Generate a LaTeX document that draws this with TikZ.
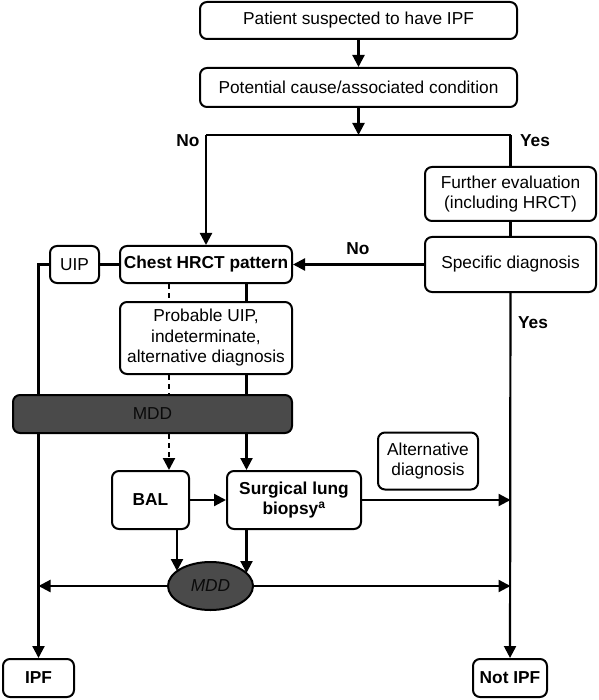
\documentclass[tikz,border=0pt]{standalone}
\usepackage{fontspec}
\setmainfont{Liberation Sans}
\usetikzlibrary{arrows.meta,shapes.geometric,backgrounds,calc}
\definecolor{mddgray}{HTML}{4A4A4A}
\definecolor{mddtext}{HTML}{0A0A0A}
\begin{document}
\begin{tikzpicture}[x=1pt,y=-1pt,
  box/.style={draw, line width=2pt, rounded corners=7pt, fill=white, align=center,
    inner sep=0pt, font=\fontsize{17.3}{20.5}\selectfont},
  bbox/.style={box, font=\fontsize{17.3}{20.5}\selectfont\bfseries},
  conn/.style={line width=2.2pt},
  arr/.style={conn, -{Triangle[length=12pt,width=12pt]}},
  dconn/.style={conn, dash pattern=on 5pt off 4pt},
  darr/.style={arr, dash pattern=on 5pt off 4pt},
  lbl/.style={font=\fontsize{17.3}{20}\selectfont\bfseries, inner sep=0pt},
]
\useasboundingbox (0,0) rectangle (598,700);

% nodes
\node[box, minimum width=317pt, minimum height=37pt] (top) at (358.5,20.5) {Patient suspected to have IPF};
\node[box, minimum width=317pt, minimum height=39pt] (cause) at (358.5,87.5) {Potential cause/associated condition};
\node[box, minimum width=171pt, minimum height=54pt] (further) at (510.5,194) {Further evaluation\\(including HRCT)};
\node[box, minimum width=171pt, minimum height=55pt] (specific) at (510.5,264.5) {Specific diagnosis};
\node[bbox, minimum width=172pt, minimum height=37pt] (chest) at (206,264.5) {Chest HRCT pattern};
\node[box, minimum width=49pt, minimum height=37pt] (uip) at (74.5,264.5) {UIP};
\node[box, minimum width=172pt, minimum height=72pt] (probable) at (206,338) {Probable UIP,\\indeterminate,\\alternative diagnosis};
\node[box, fill=mddgray, text=mddtext, minimum width=279pt, minimum height=38pt] (mddbar) at (152.5,414) {MDD};
\node[bbox, minimum width=77pt, minimum height=58pt] (bal) at (150.5,500) {BAL};
\node[bbox, minimum width=134pt, minimum height=58pt] (slb) at (294,500) {Surgical lung\\biopsy\textsuperscript{a}};
\node[box, minimum width=100pt, minimum height=57pt] (alt) at (428,461) {Alternative\\diagnosis};
\node[ellipse, draw, line width=2pt, fill=mddgray, text=mddtext, inner sep=0pt,
  minimum width=85pt, minimum height=48pt, font=\fontsize{17.3}{20}\selectfont\itshape] (mdd) at (210.5,586) {MDD};
\node[bbox, minimum width=71pt, minimum height=38pt] (ipf) at (38.5,678) {IPF};
\node[bbox, minimum width=74pt, minimum height=38pt] (notipf) at (510,678) {Not IPF};

% labels
\node[lbl] (no1) at (188,141) {No};
\node[lbl] (yes1) at (535,141) {Yes};
\node[lbl] (no2) at (358,249) {No};
\node[lbl] (yes2) at (533,323) {Yes};

% helper coordinates
\coordinate (split) at (358.5,135);
\coordinate (splitL) at (206,135);
\coordinate (splitR) at (510.5,135);
\coordinate (xl) at (38.5,0);
\coordinate (xd) at (169,0);
\coordinate (xs) at (246.5,0);
\coordinate (xb) at (177,0);
\coordinate (lmeet) at (38.5,586);
\coordinate (rmeet) at (510.5,586);
\coordinate (slbout) at (510.5,500);
\coordinate (balin) at (177,571);
\coordinate (slbin) at (246.5,573);

\begin{pgfonlayer}{background}
\draw[arr] (top) -- (cause);
\draw[arr] (cause) -- (split);
\draw[conn] (splitL) -- (splitR);
\draw[arr] (splitL) -- (chest);
\draw[conn] (splitR) -- (further);
\draw[conn] (further) -- (specific);
\draw[arr] (specific) -- (chest);
\draw[arr] (specific) -- (notipf);
\draw[conn] (chest) -- (uip);
\draw[arr] (uip.west) -| (xl |- ipf.north);
\draw[dconn] (chest.south -| xd) -- (probable.north -| xd);
\draw[conn] (chest.south -| xs) -- (probable.north -| xs);
\draw[dconn] (probable.south -| xd) -- (mddbar.north -| xd);
\draw[conn] (probable.south -| xs) -- (mddbar.north -| xs);
\draw[darr] (mddbar.south -| xd) -- (bal.north -| xd);
\draw[arr] (mddbar.south -| xs) -- (slb.north -| xs);
\draw[arr] (bal) -- (slb);
\draw[arr] (slb.east) -- (slbout);
\draw[arr] (bal.south -| xb) -- (balin);
\draw[arr] (slb.south -| xs) -- (slbin);
\draw[arr] (mdd.west) -- (lmeet);
\draw[arr] (mdd.east) -- (rmeet);
\end{pgfonlayer}
\end{tikzpicture}
\end{document}
